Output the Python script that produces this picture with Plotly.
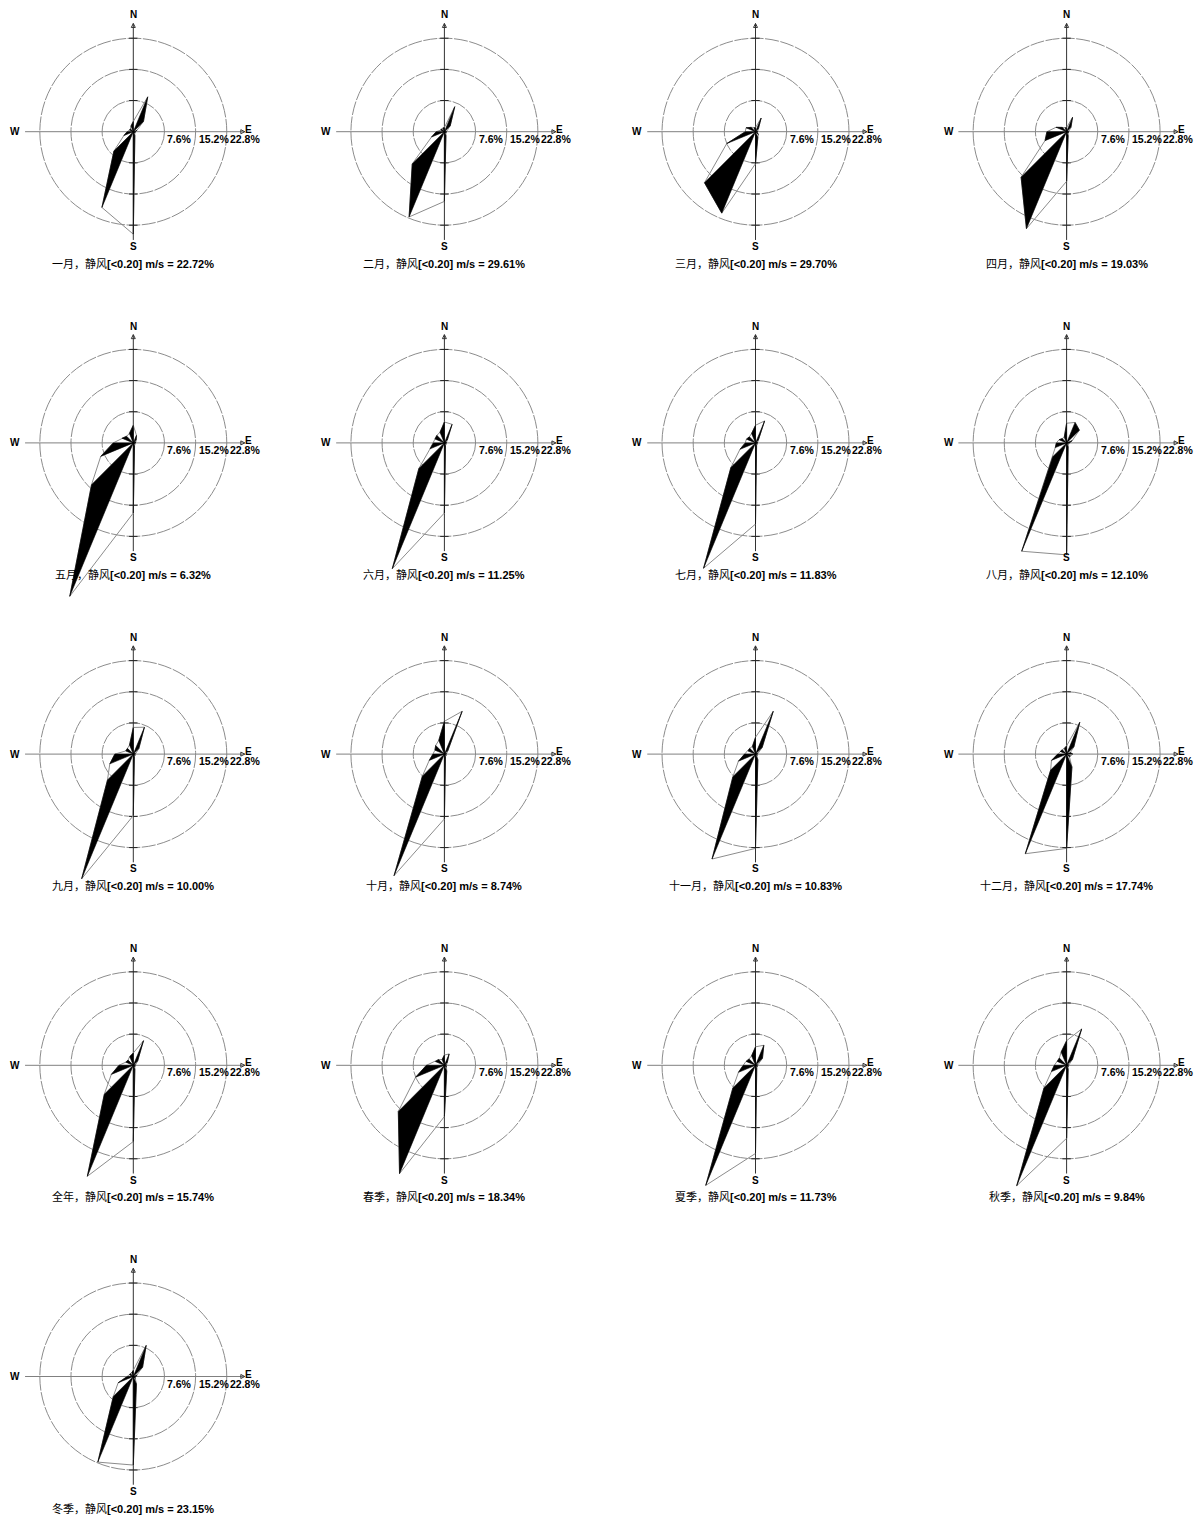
import math
import plotly.graph_objects as go

# ---------------- data (frequency %, 16 directions clockwise from N) ----------------
directions = ["N", "NNE", "NE", "ENE", "E", "ESE", "SE", "SSE",
              "S", "SSW", "SW", "WSW", "W", "WNW", "NW", "NNW"]

panel_names = ["一月", "二月", "三月", "四月", "五月", "六月", "七月", "八月",
               "九月", "十月", "十一月", "十二月", "全年", "春季", "夏季", "秋季", "冬季"]
calm_pct = [22.72, 29.61, 29.70, 19.03, 6.32, 11.25, 11.83, 12.10,
            10.00, 8.74, 10.83, 17.74, 15.74, 18.34, 11.73, 9.84, 23.15]
calm_threshold = "0.20"

jan = [2.5, 9.2, 3.5, 1.0, 0.5, 0.5, 0.5, 1.0, 25.0, 20.0, 6.7, 2.5, 1.5, 1.0, 1.0, 1.5]
feb = [1.0, 6.6, 2.0, 0.5, 0.5, 0.5, 0.5, 1.0, 17.0, 22.5, 11.1, 3.4, 2.0, 1.0, 1.0, 1.0]
mar = [1.0, 3.6, 1.0, 0.5, 0.5, 0.5, 1.0, 1.5, 7.8, 21.5, 17.6, 7.6, 2.5, 2.5, 1.5, 1.0]
apr = [1.0, 3.8, 1.5, 0.5, 0.5, 0.5, 0.5, 1.0, 12.1, 25.6, 15.7, 5.7, 4.8, 2.8, 1.5, 1.0]
may = [4.3, 2.0, 1.0, 0.7, 0.5, 0.5, 0.5, 0.8, 17.1, 40.5, 14.4, 8.6, 4.9, 3.0, 2.3, 2.5]
jun = [5.1, 4.9, 1.0, 0.5, 0.5, 0.5, 0.5, 0.7, 17.1, 33.2, 8.8, 3.8, 2.7, 2.5, 2.6, 2.8]
jul = [4.3, 5.8, 1.0, 0.5, 0.5, 0.5, 0.5, 0.7, 19.8, 33.1, 8.5, 4.1, 2.5, 2.4, 2.1, 2.5]
aug = [4.8, 5.4, 4.4, 1.5, 0.7, 0.5, 0.5, 1.0, 27.3, 28.6, 4.8, 3.0, 2.5, 2.0, 1.5, 1.5]
sep = [6.5, 7.1, 1.9, 0.5, 0.5, 0.5, 0.5, 0.7, 15.0, 32.9, 8.9, 6.2, 4.5, 2.0, 2.0, 2.4]
oct_ = [8.0, 11.3, 1.2, 0.5, 0.5, 0.5, 0.5, 0.7, 15.8, 32.1, 7.6, 4.0, 2.8, 2.5, 3.0, 3.6]
nov = [4.1, 11.3, 2.3, 0.5, 0.5, 0.5, 0.5, 1.5, 23.0, 27.7, 7.8, 4.5, 2.7, 2.0, 2.0, 2.0]
dec = [2.0, 8.4, 2.5, 1.0, 1.5, 1.0, 1.0, 3.4, 23.0, 26.3, 5.5, 4.0, 2.2, 1.7, 1.5, 1.5]
year = [3.0, 6.5, 1.5, 0.5, 0.5, 0.5, 0.5, 1.0, 18.6, 29.3, 10.0, 5.8, 3.5, 2.0, 1.8, 2.3]
spring = [2.5, 3.0, 1.0, 0.5, 0.5, 0.5, 0.7, 1.5, 12.5, 28.6, 15.9, 7.6, 4.4, 2.4, 2.0, 1.5]
summer = [4.5, 5.3, 2.4, 0.5, 0.5, 0.5, 0.5, 0.8, 21.5, 31.7, 7.8, 4.5, 3.0, 2.5, 2.2, 2.5]
autumn = [6.0, 9.6, 2.0, 0.5, 0.5, 0.5, 0.5, 1.0, 17.8, 31.8, 7.8, 4.0, 3.0, 2.5, 2.5, 3.5]
winter = [1.5, 8.2, 3.2, 1.0, 0.7, 0.5, 0.7, 2.0, 21.6, 22.6, 6.9, 4.0, 1.5, 1.0, 1.0, 1.0]

series = [jan, feb, mar, apr, may, jun, jul, aug, sep, oct_, nov, dec,
          year, spring, summer, autumn, winter]

ring_values = [7.6, 15.2, 22.8]
ring_labels = ["7.6%", "15.2%", "22.8%"]

# ---------------- layout constants ----------------
PX = 4.1                 # pixels per percent
FIG_W, FIG_H = 1202, 1517
COL_X = [133.3 + 311.1 * i for i in range(4)]
ROW_Y = [131.7 + 311.2 * j for j in range(5)]
HALF_W = 124
TOP = 124
BOTTOM_MAX = 165
AX_N, AX_S, AX_W, AX_E = 26.4, 26.4, 26.4, 27.2   # axis line extents (%)
FILLED_PAIRS = [(15, 0), (1, 2), (3, 4), (5, 6), (7, 8), (9, 10), (11, 12), (13, 14)]

LATIN = "Liberation Sans, Arial, Noto Sans CJK SC"


def to_xy(vals):
    xs, ys = [], []
    for i, v in enumerate(vals):
        a = math.radians(i * 360.0 / len(vals))
        xs.append(v * math.sin(a))
        ys.append(v * math.cos(a))
    return xs, ys


fig = go.Figure()
shapes = []
annotations = []
layout_axes = {}

for k, vals in enumerate(series):
    r, c = divmod(k, 4)
    cx = COL_X[c]
    cy = ROW_Y[r]
    bot = min(BOTTOM_MAX, FIG_H - cy - 1)
    top = min(TOP, cy - 1)
    idx = "" if k == 0 else str(k + 1)
    xa, ya = "x" + idx, "y" + idx

    layout_axes["xaxis" + idx] = dict(
        domain=[max(0, (cx - HALF_W) / FIG_W), min(1, (cx + HALF_W) / FIG_W)],
        range=[-HALF_W / PX, HALF_W / PX], visible=False, fixedrange=True, anchor=ya)
    layout_axes["yaxis" + idx] = dict(
        domain=[max(0, (FIG_H - (cy + bot)) / FIG_H), min(1, (FIG_H - (cy - top)) / FIG_H)],
        range=[-bot / PX, top / PX], visible=False, fixedrange=True, anchor=xa)

    # rings
    for rv in ring_values:
        shapes.append(dict(type="circle", xref=xa, yref=ya, x0=-rv, y0=-rv, x1=rv, y1=rv,
                           line=dict(color="#8c8c8c", width=1, dash="14px,1.5px"), layer="below"))

    # cross axes
    fig.add_trace(go.Scatter(x=[-AX_W, AX_E], y=[0, 0], mode="lines",
                             line=dict(color="#808080", width=1), xaxis=xa, yaxis=ya,
                             hoverinfo="skip"))
    fig.add_trace(go.Scatter(x=[0, 0], y=[-AX_S, AX_N], mode="lines",
                             line=dict(color="#333333", width=1), xaxis=xa, yaxis=ya,
                             hoverinfo="skip"))
    # arrow heads
    fig.add_trace(go.Scatter(x=[0, AX_E], y=[AX_N, 0], mode="markers",
                             marker=dict(symbol=["arrow-up-open", "arrow-right-open"], size=4,
                                         color="#333333", line=dict(width=1, color="#333333")),
                             xaxis=xa, yaxis=ya, hoverinfo="skip", cliponaxis=False))
    # ring ticks on the N-S axis
    fig.add_trace(go.Scatter(x=[0] * (2 * len(ring_values)),
                             y=ring_values + [-v for v in ring_values], mode="markers",
                             marker=dict(symbol="line-ew", size=6,
                                         line=dict(width=1, color="#222222")),
                             xaxis=xa, yaxis=ya, hoverinfo="skip"))

    xs, ys = to_xy(vals)
    # outline polygon
    fig.add_trace(go.Scatter(x=xs + [xs[0]], y=ys + [ys[0]], mode="lines",
                             line=dict(color="#8c8c8c", width=1), xaxis=xa, yaxis=ya,
                             hoverinfo="skip"))
    # black wedges
    fx, fy = [], []
    for a, b in FILLED_PAIRS:
        fx += [0, xs[a], xs[b], 0, None]
        fy += [0, ys[a], ys[b], 0, None]
    fig.add_trace(go.Scatter(x=fx, y=fy, mode="lines", fill="toself", fillcolor="black",
                             line=dict(color="black", width=0.6), xaxis=xa, yaxis=ya,
                             hoverinfo="skip"))

    # compass letters
    for txt, ax_, ay_ in [("N", 0, 28.5), ("S", 0, -28.0), ("W", -28.8, 0), ("E", 28.0, 0.6)]:
        annotations.append(dict(x=ax_, y=ay_, xref=xa, yref=ya, text=txt, showarrow=False,
                                xanchor="center", yanchor="middle",
                                font=dict(family=LATIN, size=10, color="black", weight="bold")))
    # ring labels
    for rv, lab in zip(ring_values, ring_labels):
        annotations.append(dict(x=rv, y=0, xref=xa, yref=ya, text=f"<b>{lab}</b>", showarrow=False,
                                xanchor="left", yanchor="middle", xshift=1, yshift=-7,
                                font=dict(family=LATIN, size=10.5, color="black")))
    # title
    annotations.append(dict(x=0, y=-32.1, xref=xa, yref=ya,
                            text=f"{panel_names[k]}，静风<b>[&lt;{calm_threshold}] m/s = {calm_pct[k]:.2f}%</b>",
                            showarrow=False, xanchor="center", yanchor="middle",
                            font=dict(family=LATIN, size=11, color="black")))

fig.update_layout(
    width=FIG_W, height=FIG_H, margin=dict(l=0, r=0, t=0, b=0),
    template="none", paper_bgcolor="white", plot_bgcolor="rgba(0,0,0,0)",
    showlegend=False, shapes=shapes, annotations=annotations, **layout_axes)

fig.write_html("out.html", config={"displayModeBar": False, "staticPlot": True},
               post_script="document.body.style.margin='0';document.body.style.overflow='hidden';")
